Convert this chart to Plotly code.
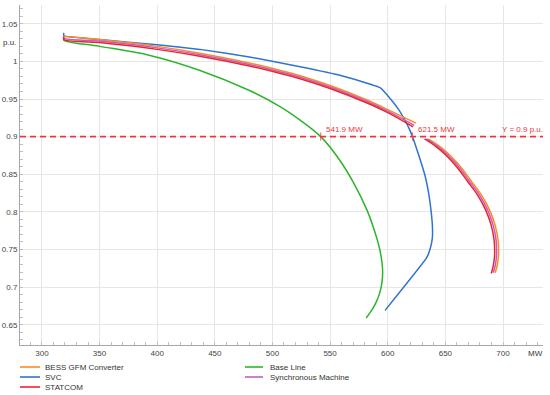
import plotly.graph_objects as go

# ---------------- data ----------------
series_names = ["BESS GFM Converter", "SVC", "STATCOM", "Base Line", "Synchronous Machine"]
series_colors = ["#ff8a1e", "#2f74cf", "#e8262d", "#2cb52c", "#c25bc9"]

bess_x = [319, 350, 400, 437, 480, 507, 524, 550, 580, 600, 624.5, None,
          635.1, 644.2, 654.2, 663.7, 672.4, 681.5, 688.5, 693.2, 695.7, 696.1, 695.0, 693.2]
bess_y = [1.033, 1.029, 1.020, 1.011, 0.998, 0.988, 0.981, 0.968, 0.950, 0.936, 0.918, None,
          0.897, 0.888, 0.875, 0.859, 0.841, 0.822, 0.802, 0.782, 0.762, 0.742, 0.729, 0.719]

svc_x = [319, 319, 350, 400, 437, 480, 524, 560, 593.4, 603.5, 609.5, 614.5, 618.5, 621.5, 627, 632.4,
         635.5, 637.7, 638.8, 638.7, 637, 633.8, 597.7]
svc_y = [1.038, 1.034, 1.029, 1.022, 1.016, 1.006, 0.993, 0.981, 0.965, 0.948, 0.936, 0.923, 0.911, 0.900, 0.875, 0.848,
         0.825, 0.800, 0.780, 0.765, 0.752, 0.739, 0.669]

statcom_x = [319, 319, 350, 400, 437, 480, 507, 524, 550, 580, 600, 622, None,
             632.0, 640.8, 650.8, 660.3, 669.0, 678.1, 685.1, 689.8, 692.3, 692.7, 691.6, 689.8]
statcom_y = [1.032, 1.029, 1.025, 1.016, 1.007, 0.994, 0.984, 0.977, 0.964, 0.946, 0.932, 0.913, None,
             0.897, 0.888, 0.875, 0.859, 0.841, 0.822, 0.802, 0.782, 0.762, 0.742, 0.729, 0.718]

base_x = [319.1, 319.1, 350.3, 393.8, 437.2, 480.6, 506.6, 524.0, 541.9, 558.7, 571.7, 582.1, 588.5,
          592.8, 595.0, 595.6, 595.0, 593.0, 590.0, 586.0, 581.3]
base_y = [1.031, 1.028, 1.020, 1.008, 0.988, 0.961, 0.940, 0.922, 0.900, 0.868, 0.835, 0.802, 0.775,
          0.752, 0.733, 0.720, 0.706, 0.692, 0.680, 0.669, 0.659]

sync_x = [319, 319, 350, 400, 437, 480, 507, 524, 550, 580, 600, 623, None,
          633.6, 642.5, 652.5, 662.0, 670.7, 679.8, 686.8, 691.5, 694.0, 694.4, 693.3, 691.5]
sync_y = [1.034, 1.031, 1.027, 1.018, 1.009, 0.996, 0.986, 0.979, 0.966, 0.948, 0.934, 0.915, None,
          0.897, 0.888, 0.875, 0.859, 0.841, 0.822, 0.802, 0.782, 0.762, 0.742, 0.729, 0.719]

threshold_y = 0.9
crossing_x = [541.9, 621.5]
crossing_labels = ["541.9 MW", "621.5 MW"]

x_ticks = [300, 350, 400, 450, 500, 550, 600, 650, 700]
y_ticks = [0.65, 0.7, 0.75, 0.8, 0.85, 0.9, 0.95, 1.0, 1.05]
y_tick_text = ["0.65", "0.7", "0.75", "0.8", "0.85", "0.9", "0.95", "1", "1.05"]

# ---------------- figure ----------------
W, H = 550, 395
ML, MR, MT, MB = 20, 7, 5, 50
PW, PH = W - ML - MR, H - MT - MB

fig = go.Figure()
xs = [bess_x, svc_x, statcom_x, base_x, sync_x]
ys = [bess_y, svc_y, statcom_y, base_y, sync_y]
smooth = [1.0, 0.35, 1.0, 1.0, 1.0]
draw_order = [3, 1, 0, 4, 2]
for i in draw_order:
    fig.add_trace(go.Scatter(x=xs[i], y=ys[i], mode="lines", name=series_names[i],
                             line=dict(color=series_colors[i], width=1.5, shape="spline", smoothing=smooth[i]),
                             connectgaps=False, showlegend=False, hoverinfo="skip"))

red = "#e8383c"
fig.add_trace(go.Scatter(x=crossing_x, y=[threshold_y] * len(crossing_x), mode="markers",
                         marker=dict(symbol="line-ns-open", size=6, color="#e8626a", line=dict(width=1, color="#e8626a")),
                         showlegend=False, hoverinfo="skip"))

shapes = [dict(type="line", xref="paper", x0=0, x1=1, yref="y", y0=threshold_y, y1=threshold_y,
               line=dict(color=red, width=1.6, dash="6px,4px"), layer="above")]
annotations = []
ff = "Liberation Sans, Arial, sans-serif"
font_txt = dict(family=ff, size=8, color="#333")
for cx, lab in zip(crossing_x, crossing_labels):
    annotations.append(dict(x=cx, y=threshold_y, xref="x", yref="y", text=lab, showarrow=False,
                            xanchor="left", yanchor="bottom", xshift=3, yshift=1,
                            font=dict(family=ff, size=8, color=red)))
annotations.append(dict(x=1, y=threshold_y, xref="paper", yref="y", text="Y = 0.9 p.u.", showarrow=False,
                        xanchor="right", yanchor="bottom", xshift=2, yshift=1,
                        font=dict(family=ff, size=8, color=red)))
annotations.append(dict(x=0, y=1.025, xref="paper", yref="y", text="p.u.", showarrow=False,
                        xanchor="right", yanchor="middle", xshift=-2, font=font_txt))
annotations.append(dict(x=728.6, y=0, xref="x", yref="paper", text="MW", showarrow=False,
                        xanchor="center", yanchor="top", yshift=-2, font=font_txt))

# manual legend (column-major, as in the reference)
def px_x(p):
    return (p - ML) / PW

def px_y(p):
    return (H - MB - p) / PH

legend_slots = [(20, 40, 43, 367), (20, 40, 43, 377), (20, 40, 43, 387), (245, 263, 268, 367), (245, 263, 268, 377)]
for i, (lx0, lx1, tx, ty) in enumerate(legend_slots):
    shapes.append(dict(type="line", xref="paper", yref="paper", x0=px_x(lx0), x1=px_x(lx1),
                       y0=px_y(ty), y1=px_y(ty), line=dict(color=series_colors[i], width=1.6)))
    annotations.append(dict(x=px_x(tx), y=px_y(ty), xref="paper", yref="paper", text=series_names[i],
                            showarrow=False, xanchor="left", yanchor="middle", font=font_txt))

axis_common = dict(showgrid=True, gridcolor="#e6e6e6", gridwidth=1, zeroline=False,
                   showline=True, linecolor="#a8a8a8", linewidth=1, ticks="", automargin=False,
                   tickfont=dict(family=ff, size=8, color="#444"))

fig.update_layout(
    width=W, height=H, margin=dict(l=ML, r=MR, t=MT, b=MB, autoexpand=False),
    paper_bgcolor="white", plot_bgcolor="white",
    shapes=shapes, annotations=annotations, showlegend=False,
    xaxis=dict(range=[281, 734.7], tickvals=x_ticks, ticklen=0,
               minor=dict(dtick=10, ticks="inside", ticklen=3, tickcolor="#c0c0c0", showgrid=False),
               **axis_common),
    yaxis=dict(range=[0.623, 1.075], tickvals=y_ticks, ticktext=y_tick_text,
               minor=dict(dtick=0.01, ticks="inside", ticklen=3, tickcolor="#c0c0c0", showgrid=False),
               **axis_common),
)

fig.write_html("out.html", config={"displayModeBar": False},
               post_script="document.body.style.margin='0';document.body.style.padding='0';")
